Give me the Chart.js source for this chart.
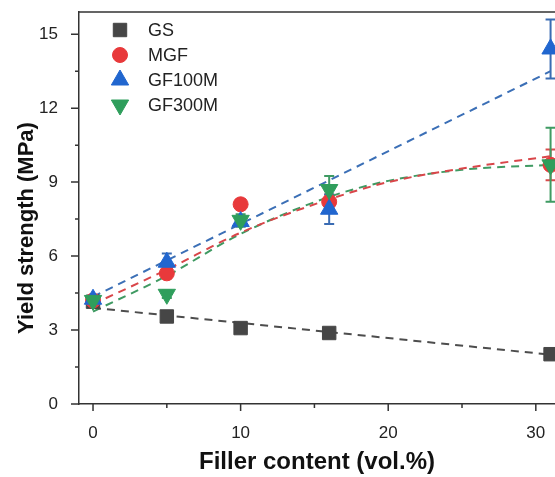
<!DOCTYPE html>
<html>
<head>
<meta charset="utf-8">
<script src="https://cdn.jsdelivr.net/npm/chart.js@4.4.1/dist/chart.umd.min.js"></script>
<style>
  html, body { margin: 0; padding: 0; background: #fff; }
  #wrap { width: 555px; height: 477px; }
</style>
</head>
<body>
<div id="wrap"><canvas id="yieldChart"></canvas></div>
<script>
const fillerContent = [0, 5, 10, 16, 31];

const gsYield = [4.15, 3.55, 3.08, 2.88, 2.02];
const gsError = [0.05, 0.05, 0.05, 0.05, 0.08];
const mgfYield = [4.2, 5.3, 8.1, 8.2, 9.7];
const mgfError = [0.15, 0.2, 0.2, 0.3, 0.62];
const gf100mYield = [4.25, 5.75, 7.4, 7.9, 14.4];
const gf100mError = [0.15, 0.35, 0.2, 0.6, 1.2];
const gf300mYield = [4.2, 4.45, 7.45, 8.7, 9.7];
const gf300mError = [0.15, 0.15, 0.25, 0.55, 1.5];

// fitted curves
const linearFitX = [0, 31];
const gsFit = [3.9, 2.0];
const gf100mFit = [4.35, 13.5];
const curveFitX = [0, 5, 10, 16, 20, 25, 31];
const mgfFit = [4.05, 5.45, 6.95, 8.3, 9.0, 9.55, 10.05];
const gf300mFit = [3.75, 5.2, 6.9, 8.4, 9.05, 9.5, 9.7];

const xMajorTicks = [0, 10, 20, 30];
const xMinorTicks = [5, 15, 25];
const yMajorTicks = [0, 3, 6, 9, 12, 15];
const yMinorTicks = [1.5, 4.5, 7.5, 10.5, 13.5];

const axisColor = "#333333";

function toPoints(xs, ys) {
  return xs.map((x, i) => ({ x: x, y: ys[i] }));
}

const series = [
  { label: "GS", values: gsYield, errors: gsError, color: "#464646", style: "rect", radius: 9.5, rotation: 0, order: 4 },
  { label: "MGF", values: mgfYield, errors: mgfError, color: "#e8393b", style: "circle", radius: 7.5, rotation: 0, order: 3 },
  { label: "GF100M", values: gf100mYield, errors: gf100mError, color: "#2166cf", style: "triangle", radius: 10, rotation: 0, order: 2 },
  { label: "GF300M", values: gf300mYield, errors: gf300mError, color: "#2f9e5c", style: "triangle", radius: 10, rotation: 180, order: 1 },
];

const errorColors = { GS: "#555555", MGF: "#d84a4a", GF100M: "#3a6cb3", GF300M: "#3f9b63" };

const markerSets = series.map((s) => ({
  label: s.label,
  data: toPoints(fillerContent, s.values),
  showLine: false,
  pointStyle: s.style,
  pointRadius: s.radius,
  pointRotation: s.rotation,
  pointBackgroundColor: s.color,
  pointBorderColor: s.color,
  pointBorderWidth: 1,
  order: s.order,
  clip: false,
}));

function fitSet(label, xs, ys, color) {
  return {
    label: label,
    data: toPoints(xs, ys),
    borderColor: color,
    borderWidth: 2,
    borderDash: [8, 6],
    pointRadius: 0,
    cubicInterpolationMode: "monotone",
    order: 10,
  };
}

const fitSets = [
  fitSet("GS fit", linearFitX, gsFit, "#4d4d4d"),
  fitSet("MGF fit", curveFitX, mgfFit, "#d9464a"),
  fitSet("GF100M fit", linearFitX, gf100mFit, "#3b6fb6"),
  fitSet("GF300M fit", curveFitX, gf300mFit, "#3f9a62"),
];

const errorBars = {
  id: "errorBars",
  beforeDatasetsDraw(chart) {
    const ctx = chart.ctx;
    const xs = chart.scales.x;
    const ys = chart.scales.y;
    ctx.save();
    ctx.lineWidth = 2;
    series.forEach((s) => {
      ctx.strokeStyle = errorColors[s.label];
      fillerContent.forEach((x, i) => {
        const px = xs.getPixelForValue(x);
        const top = ys.getPixelForValue(s.values[i] + s.errors[i]);
        const bot = ys.getPixelForValue(s.values[i] - s.errors[i]);
        ctx.beginPath();
        ctx.moveTo(px, top);
        ctx.lineTo(px, bot);
        ctx.moveTo(px - 5, top);
        ctx.lineTo(px + 5, top);
        ctx.moveTo(px - 5, bot);
        ctx.lineTo(px + 5, bot);
        ctx.stroke();
      });
    });
    ctx.restore();
  },
};

const frameAndTicks = {
  id: "frameAndTicks",
  afterDraw(chart) {
    const ctx = chart.ctx;
    const area = chart.chartArea;
    const xs = chart.scales.x;
    const ys = chart.scales.y;
    ctx.save();
    ctx.strokeStyle = axisColor;
    ctx.lineWidth = 1.5;
    ctx.beginPath();
    ctx.moveTo(area.left, area.top);
    ctx.lineTo(area.right, area.top);
    xMajorTicks.forEach((v) => {
      const px = xs.getPixelForValue(v);
      ctx.moveTo(px, area.bottom);
      ctx.lineTo(px, area.bottom + 7);
    });
    xMinorTicks.forEach((v) => {
      const px = xs.getPixelForValue(v);
      ctx.moveTo(px, area.bottom);
      ctx.lineTo(px, area.bottom + 4);
    });
    yMajorTicks.forEach((v) => {
      const py = ys.getPixelForValue(v);
      ctx.moveTo(area.left, py);
      ctx.lineTo(area.left - 8, py);
    });
    yMinorTicks.forEach((v) => {
      const py = ys.getPixelForValue(v);
      ctx.moveTo(area.left, py);
      ctx.lineTo(area.left - 4, py);
    });
    ctx.stroke();

    // y axis title
    ctx.fillStyle = "#111111";
    ctx.font = "bold 22px 'Liberation Sans', Arial, sans-serif";
    ctx.textAlign = "center";
    ctx.textBaseline = "middle";
    ctx.translate(27, 228);
    ctx.rotate(-Math.PI / 2);
    ctx.fillText("Yield strength (MPa)", 0, 0);
    ctx.restore();

    // legend
    ctx.save();
    ctx.font = "18px 'Liberation Sans', Arial, sans-serif";
    ctx.textAlign = "left";
    ctx.textBaseline = "middle";
    series.forEach((s, i) => {
      const y = 30 + i * 25;
      ctx.fillStyle = s.color;
      ctx.strokeStyle = s.color;
      ctx.lineWidth = 1;
      Chart.helpers.drawPoint(ctx, { pointStyle: s.style, radius: s.radius, rotation: s.rotation, borderWidth: 1 }, 120, y);
      ctx.fillStyle = "#222222";
      ctx.fillText(s.label, 148, y + 1);
    });
    ctx.restore();
  },
};

new Chart(document.getElementById("yieldChart"), {
  type: "line",
  data: { datasets: markerSets.concat(fitSets) },
  plugins: [errorBars, frameAndTicks],
  options: {
    responsive: true,
    maintainAspectRatio: false,
    animation: false,
    layout: { autoPadding: false, padding: { top: 12, right: 0, left: 0, bottom: 0 } },
    plugins: {
      legend: { display: false },
      tooltip: { enabled: false },
    },
    scales: {
      x: {
        type: "linear",
        min: -0.95,
        max: 31.3,
        afterBuildTicks: (axis) => { axis.ticks = xMajorTicks.map((v) => ({ value: v })); },
        afterFit: (axis) => {
          axis.height = 73;
          axis.paddingLeft = 0;
          axis.paddingRight = 0;
        },
        grid: { display: false },
        border: { color: axisColor, width: 1.5 },
        ticks: {
          padding: 11,
          color: "#222222",
          maxRotation: 0,
          font: { family: "'Liberation Sans', Arial, sans-serif", size: 17 },
        },
        title: {
          display: true,
          text: "Filler content (vol.%)",
          color: "#111111",
          padding: { top: 0, bottom: 0 },
          font: { family: "'Liberation Sans', Arial, sans-serif", size: 24, weight: "bold" },
        },
      },
      y: {
        type: "linear",
        min: 0,
        max: 15.9,
        afterBuildTicks: (axis) => { axis.ticks = yMajorTicks.map((v) => ({ value: v })); },
        afterFit: (axis) => {
          axis.width = 79;
          axis.paddingTop = 0;
          axis.paddingBottom = 0;
        },
        grid: { display: false },
        border: { color: axisColor, width: 1.5 },
        ticks: {
          padding: 13,
          color: "#222222",
          font: { family: "'Liberation Sans', Arial, sans-serif", size: 17 },
        },
      },
    },
  },
});
</script>
</body>
</html>
